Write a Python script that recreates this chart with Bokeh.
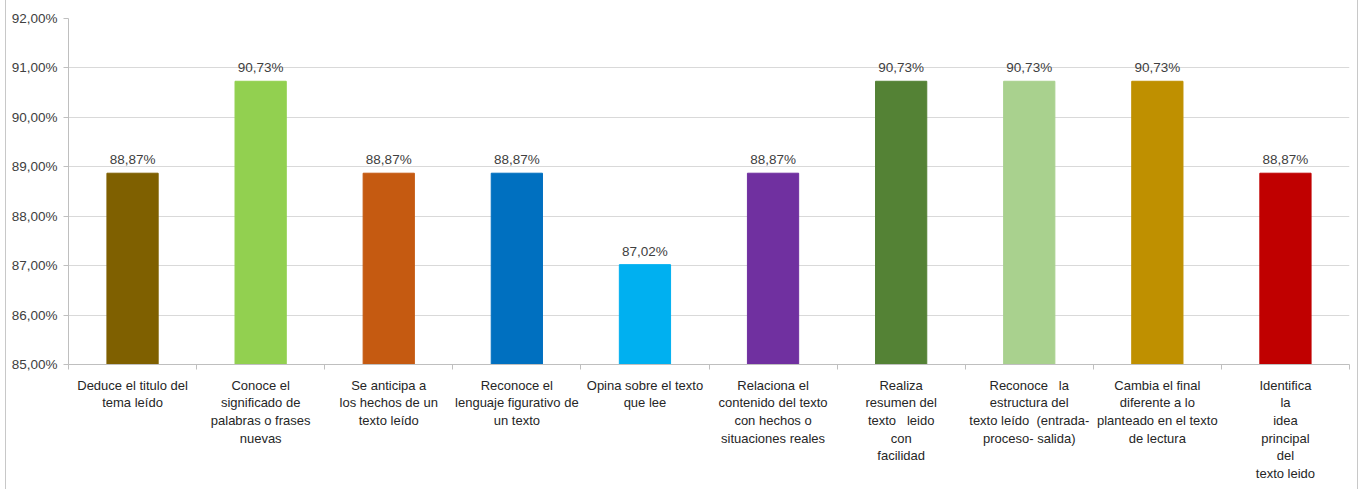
from bokeh.plotting import figure
from bokeh.models import ColumnDataSource, Range1d, FixedTicker
from bokeh.core.properties import value
from bokeh.embed import file_html
from bokeh.resources import INLINE

NB = "\u00a0"
categories = [
    "Deduce el titulo del\ntema leído",
    "Conoce el\nsignificado de\npalabras o frases\nnuevas",
    "Se anticipa a\nlos hechos de un\ntexto leído",
    "Reconoce el\nlenguaje figurativo de\nun texto",
    "Opina sobre el texto\nque lee",
    "Relaciona el\ncontenido del texto\ncon hechos o\nsituaciones reales",
    "Realiza\nresumen del\ntexto" + NB * 3 + "leido\ncon\nfacilidad",
    "Reconoce" + NB * 3 + "la\nestructura del\ntexto leído" + NB * 2 + "(entrada-\nproceso- salida)",
    "Cambia el final\ndiferente a lo\nplanteado en el texto\nde lectura",
    "Identifica\nla\nidea\nprincipal\ndel\ntexto leido",
]
values = [88.87, 90.73, 88.87, 88.87, 87.02, 88.87, 90.73, 90.73, 90.73, 88.87]
colors = ["#7F6000", "#92D050", "#C55A11", "#0070C0", "#00B0F0",
          "#7030A0", "#548235", "#A9D18E", "#BF9000", "#C00000"]
y_ticks = [85, 86, 87, 88, 89, 90, 91, 92]
y_tick_labels = ["85,00%", "86,00%", "87,00%", "88,00%", "89,00%", "90,00%", "91,00%", "92,00%"]

n = len(categories)
xs = list(range(n))
labels = [f"{v:.2f}".replace(".", ",") + "%" for v in values]
src = ColumnDataSource(dict(x=xs, top=values, color=colors, label=labels))

FONT = "Liberation Sans"

p = figure(width=1353, height=489, output_backend="svg", toolbar_location=None,
           x_range=Range1d(-0.5, n - 0.5), y_range=Range1d(85, 92),
           min_border_left=62, min_border_right=10, min_border_top=18, min_border_bottom=125)
p.outline_line_color = None
p.styles = {"margin-left": "5px",
            "border-left": "1px solid #C8C8C8",
            "border-right": "1px solid #C8C8C8"}

p.vbar(x="x", top="top", bottom=85, width=0.4, color="color", source=src)
p.text(x="x", y="top", text="label", source=src, text_align="center",
       text_baseline="bottom", y_offset=-6, text_font=value(FONT),
       text_font_size="13.5px", text_color="#404040")

# y axis
p.yaxis.ticker = FixedTicker(ticks=y_ticks)
p.yaxis.major_label_overrides = {t: l for t, l in zip(y_ticks, y_tick_labels)}
p.yaxis.major_label_text_font = FONT
p.yaxis.major_label_text_font_size = "13.5px"
p.yaxis.major_label_text_color = "#404040"
p.yaxis.axis_line_color = "#BFBFBF"
p.yaxis.major_tick_line_color = "#BFBFBF"
p.yaxis.major_tick_out = 5
p.yaxis.major_tick_in = 0
p.yaxis.minor_tick_line_color = None
p.yaxis.major_label_standoff = 6

# x axis
p.xaxis.ticker = FixedTicker(ticks=xs, minor_ticks=[i - 0.5 for i in range(n + 1)])
p.xaxis.major_label_overrides = {i: c for i, c in enumerate(categories)}
p.xaxis.major_label_text_font = FONT
p.xaxis.major_label_text_font_size = "13px"
p.xaxis.major_label_text_color = "#262626"
p.xaxis.major_label_text_line_height = 1.18
p.xaxis.major_label_standoff = 7
p.xaxis.axis_line_color = "#BFBFBF"
p.xaxis.major_tick_line_color = None
p.xaxis.minor_tick_line_color = "#BFBFBF"
p.xaxis.minor_tick_out = 5
p.xaxis.minor_tick_in = 0

p.xgrid.grid_line_color = None
p.ygrid.grid_line_color = "#D9D9D9"

open("out.html", "w").write(file_html(p, INLINE))
